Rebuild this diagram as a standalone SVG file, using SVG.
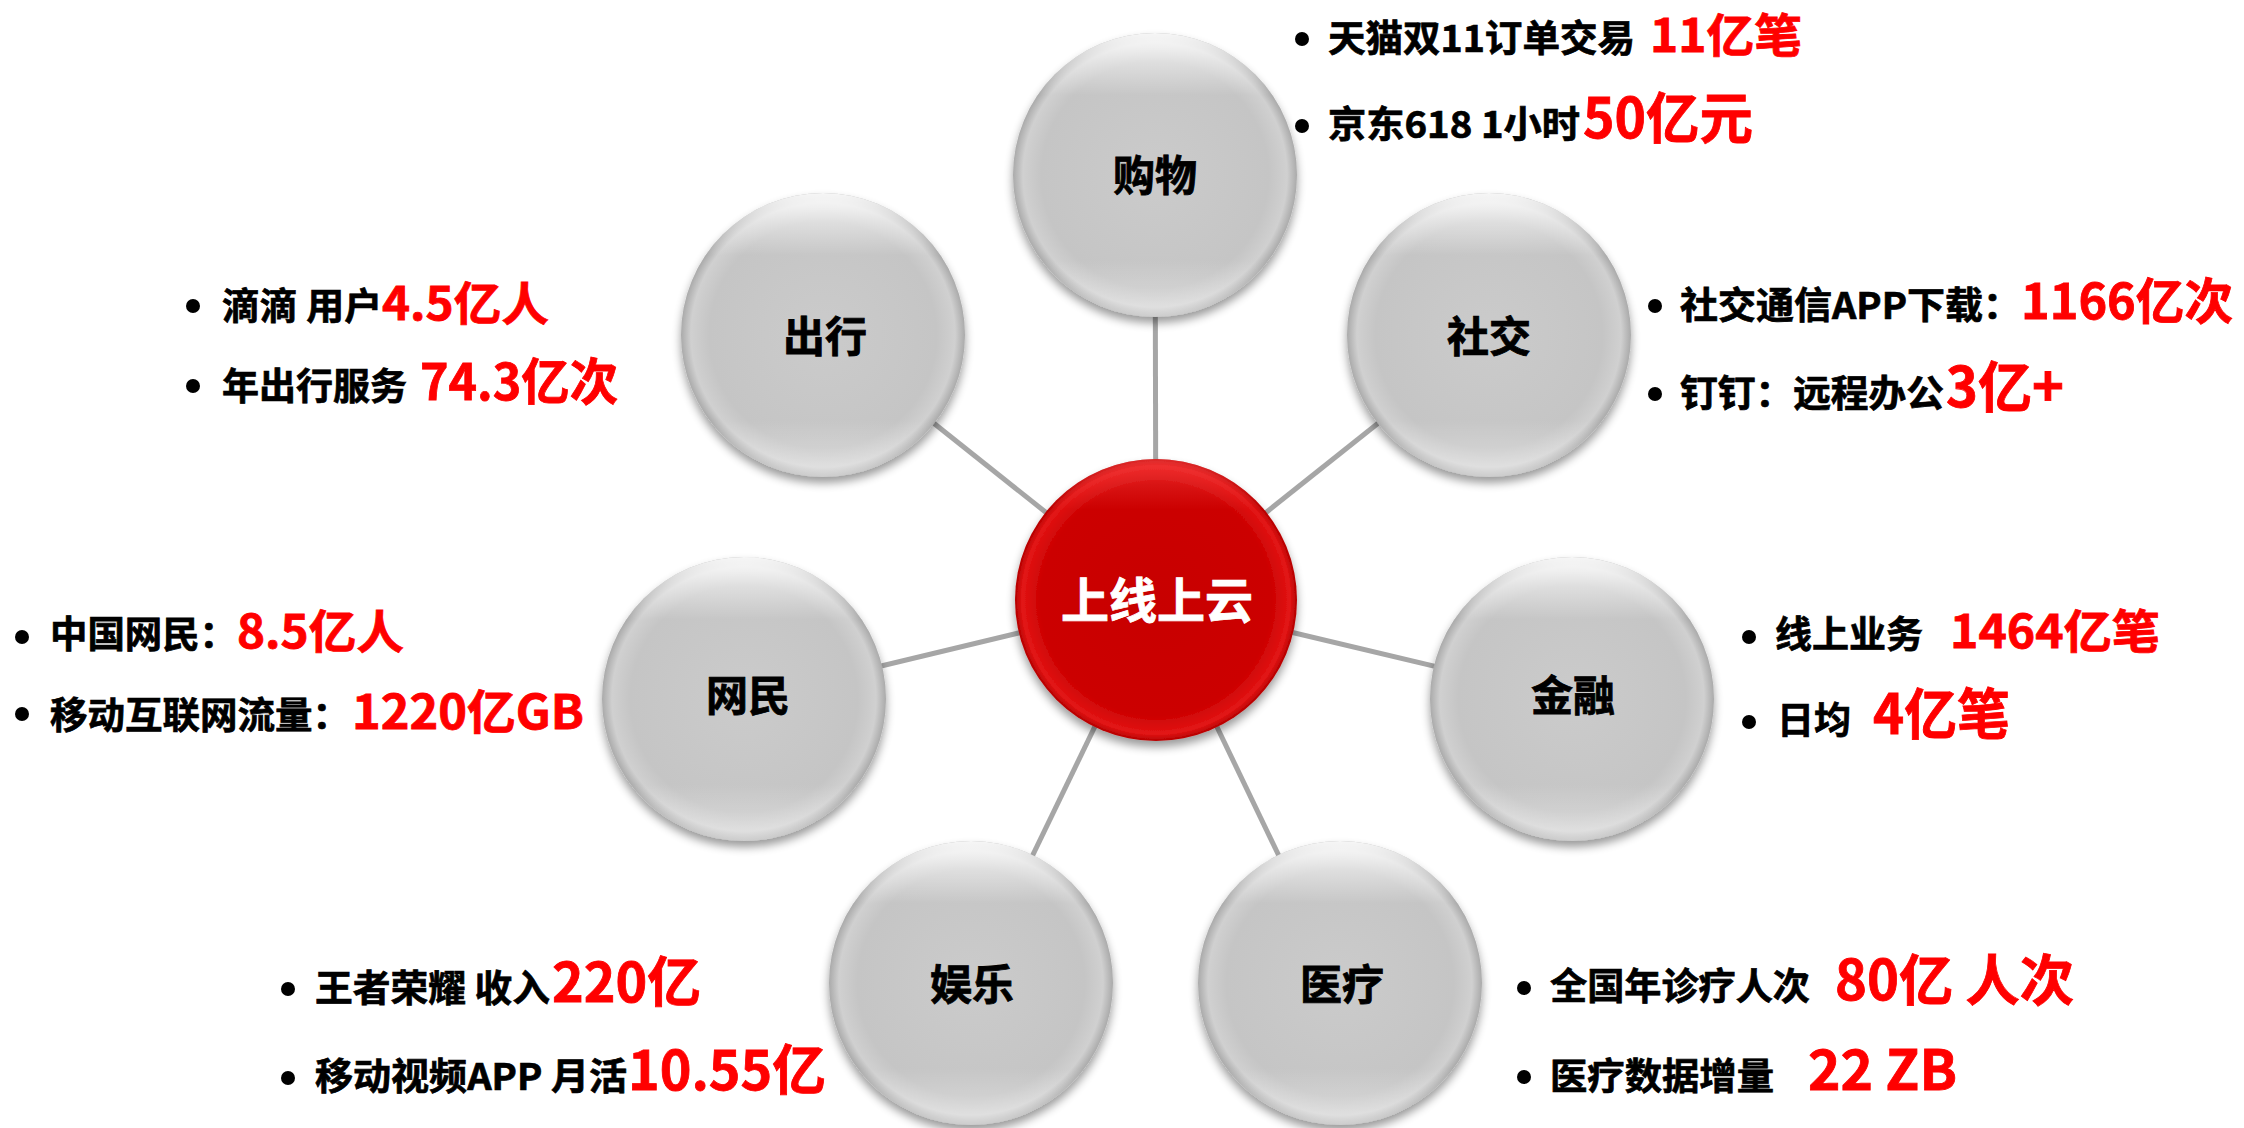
<svg xmlns="http://www.w3.org/2000/svg" width="2244" height="1128" viewBox="0 0 2244 1128">
<style>
.t{font-family:"Noto Sans CJK SC","Noto Sans CJK JP","Noto Sans",sans-serif;font-weight:700}
.nl{font-size:42px;fill:#000;stroke:#000;stroke-width:0.8px;text-anchor:middle}
.cl{font-size:48px;fill:#fff;stroke:#fff;stroke-width:0.8px;text-anchor:middle}
.b{font-size:37px;fill:#000;stroke:#000;stroke-width:0.7px}
.r{fill:#ff0000;stroke:#ff0000;stroke-width:0.8px}
.conn{stroke:#a6a6a6;stroke-width:5;stroke-linecap:butt}
.dot{fill:#000}
.gc{fill:url(#gBase);filter:url(#sh)}
.gh{fill:url(#gHi)}
</style>
<defs>
<filter id="sh" x="-20%" y="-20%" width="140%" height="150%">
<feGaussianBlur in="SourceAlpha" stdDeviation="5"/>
<feOffset dy="6" result="o"/>
<feComponentTransfer><feFuncA type="linear" slope="0.4"/></feComponentTransfer>
<feMerge><feMergeNode/><feMergeNode in="SourceGraphic"/></feMerge>
</filter>
<radialGradient id="gBase" cx="0.5" cy="0.5" r="0.5">
<stop offset="0" stop-color="#cbcbcb"/>
<stop offset="0.8" stop-color="#c5c5c5"/>
<stop offset="0.93" stop-color="#d0d0d0"/>
<stop offset="1" stop-color="#aaaaaa"/>
</radialGradient>
<linearGradient id="gHi" x1="0" y1="0" x2="0" y2="1">
<stop offset="0" stop-color="#fff" stop-opacity="0.9"/>
<stop offset="0.1" stop-color="#fff" stop-opacity="0.45"/>
<stop offset="0.22" stop-color="#fff" stop-opacity="0"/>
<stop offset="0.8" stop-color="#fff" stop-opacity="0"/>
<stop offset="1" stop-color="#fff" stop-opacity="0.4"/>
</linearGradient>
<radialGradient id="rBase" cx="0.5" cy="0.5" r="0.5">
<stop offset="0" stop-color="#c80000"/>
<stop offset="0.82" stop-color="#cc0202"/>
<stop offset="0.95" stop-color="#e31515"/>
<stop offset="1" stop-color="#b40000"/>
</radialGradient>
<linearGradient id="rHi" x1="0" y1="0" x2="0" y2="1">
<stop offset="0" stop-color="#ff5050" stop-opacity="0.5"/>
<stop offset="0.18" stop-color="#ff5050" stop-opacity="0"/>
<stop offset="1" stop-color="#ff5050" stop-opacity="0"/>
</linearGradient>
</defs>
<rect width="2244" height="1128" fill="#ffffff"/>

<g id="connectors">
<line class="conn" x1="1156" y1="600" x2="1155" y2="175"/>
<line class="conn" x1="1156" y1="600" x2="823" y2="335"/>
<line class="conn" x1="1156" y1="600" x2="1489" y2="335"/>
<line class="conn" x1="1156" y1="600" x2="744" y2="699"/>
<line class="conn" x1="1156" y1="600" x2="1572" y2="699"/>
<line class="conn" x1="1156" y1="600" x2="971" y2="983"/>
<line class="conn" x1="1156" y1="600" x2="1340" y2="983"/>
</g>

<g id="node-shopping">
<circle class="gc" cx="1155" cy="175" r="142"/>
<circle class="gh" cx="1155" cy="175" r="142"/>
<text class="t nl" x="1155" y="191">购物</text>
<circle class="dot" cx="1302" cy="39" r="7"/>
<text class="t b" x="1328" y="52" textLength="307" lengthAdjust="spacingAndGlyphs">天猫双11订单交易</text>
<text class="t r" x="1650" y="52" font-size="46" textLength="152" lengthAdjust="spacingAndGlyphs">11亿笔</text>
<circle class="dot" cx="1302" cy="126" r="7"/>
<text class="t b" x="1328" y="138" textLength="252" lengthAdjust="spacingAndGlyphs">京东618 1小时</text>
<text class="t r" x="1583" y="138" font-size="55" textLength="170" lengthAdjust="spacingAndGlyphs">50亿元</text>
</g>

<g id="node-travel">
<circle class="gc" cx="823" cy="335" r="142"/>
<circle class="gh" cx="823" cy="335" r="142"/>
<text class="t nl" x="825" y="352">出行</text>
<circle class="dot" cx="193" cy="306" r="7"/>
<text class="t b" x="222" y="320" textLength="160" lengthAdjust="spacingAndGlyphs">滴滴 用户</text>
<text class="t r" x="382" y="320" font-size="46" textLength="167" lengthAdjust="spacingAndGlyphs">4.5亿人</text>
<circle class="dot" cx="193" cy="386" r="7"/>
<text class="t b" x="222" y="400" textLength="185" lengthAdjust="spacingAndGlyphs">年出行服务</text>
<text class="t r" x="420" y="400" font-size="50" textLength="198" lengthAdjust="spacingAndGlyphs">74.3亿次</text>
</g>

<g id="node-social">
<circle class="gc" cx="1489" cy="335" r="142"/>
<circle class="gh" cx="1489" cy="335" r="142"/>
<text class="t nl" x="1489" y="352">社交</text>
<circle class="dot" cx="1655" cy="306" r="7"/>
<text class="t b" x="1680" y="319" textLength="341" lengthAdjust="spacingAndGlyphs">社交通信APP下载：</text>
<text class="t r" x="2021" y="319" font-size="49" textLength="212" lengthAdjust="spacingAndGlyphs">1166亿次</text>
<circle class="dot" cx="1655" cy="394" r="7"/>
<text class="t b" x="1680" y="407" textLength="264" lengthAdjust="spacingAndGlyphs">钉钉：远程办公</text>
<text class="t r" x="1946" y="407" font-size="55" textLength="118" lengthAdjust="spacingAndGlyphs">3亿+</text>
</g>

<g id="node-netizen">
<circle class="gc" cx="744" cy="699" r="142"/>
<circle class="gh" cx="744" cy="699" r="142"/>
<text class="t nl" x="748" y="711">网民</text>
<circle class="dot" cx="22" cy="637" r="7"/>
<text class="t b" x="50" y="648" textLength="187" lengthAdjust="spacingAndGlyphs">中国网民：</text>
<text class="t r" x="237" y="648" font-size="46" textLength="167" lengthAdjust="spacingAndGlyphs">8.5亿人</text>
<circle class="dot" cx="22" cy="714" r="7"/>
<text class="t b" x="50" y="729" textLength="300" lengthAdjust="spacingAndGlyphs">移动互联网流量：</text>
<text class="t r" x="352" y="729" font-size="47" textLength="232" lengthAdjust="spacingAndGlyphs">1220亿GB</text>
</g>

<g id="node-finance">
<circle class="gc" cx="1572" cy="699" r="142"/>
<circle class="gh" cx="1572" cy="699" r="142"/>
<text class="t nl" x="1573" y="711">金融</text>
<circle class="dot" cx="1749" cy="637" r="7"/>
<text class="t b" x="1775" y="648" textLength="148" lengthAdjust="spacingAndGlyphs">线上业务</text>
<text class="t r" x="1950" y="648" font-size="46" textLength="210" lengthAdjust="spacingAndGlyphs">1464亿笔</text>
<circle class="dot" cx="1749" cy="722" r="7"/>
<text class="t b" x="1777" y="734" textLength="74" lengthAdjust="spacingAndGlyphs">日均</text>
<text class="t r" x="1873" y="734" font-size="55" textLength="137" lengthAdjust="spacingAndGlyphs">4亿笔</text>
</g>

<g id="node-entertainment">
<circle class="gc" cx="971" cy="983" r="142"/>
<circle class="gh" cx="971" cy="983" r="142"/>
<text class="t nl" x="972" y="1000">娱乐</text>
<circle class="dot" cx="288" cy="989" r="7"/>
<text class="t b" x="315" y="1002" textLength="235" lengthAdjust="spacingAndGlyphs">王者荣耀 收入</text>
<text class="t r" x="552" y="1002" font-size="54" textLength="149" lengthAdjust="spacingAndGlyphs">220亿</text>
<circle class="dot" cx="288" cy="1078" r="7"/>
<text class="t b" x="315" y="1090" textLength="312" lengthAdjust="spacingAndGlyphs">移动视频APP 月活</text>
<text class="t r" x="628" y="1090" font-size="54" textLength="198" lengthAdjust="spacingAndGlyphs">10.55亿</text>
</g>

<g id="node-medical">
<circle class="gc" cx="1340" cy="983" r="142"/>
<circle class="gh" cx="1340" cy="983" r="142"/>
<text class="t nl" x="1342" y="1000">医疗</text>
<circle class="dot" cx="1524" cy="988" r="7"/>
<text class="t b" x="1550" y="1000" textLength="260" lengthAdjust="spacingAndGlyphs">全国年诊疗人次</text>
<text class="t r" x="1835" y="1000" font-size="55" textLength="239" lengthAdjust="spacingAndGlyphs">80亿 人次</text>
<circle class="dot" cx="1524" cy="1077" r="7"/>
<text class="t b" x="1550" y="1090" textLength="224" lengthAdjust="spacingAndGlyphs">医疗数据增量</text>
<text class="t r" x="1808" y="1090" font-size="55" textLength="149" lengthAdjust="spacingAndGlyphs">22 ZB</text>
</g>

<g id="node-center">
<circle cx="1156" cy="600" r="141" fill="url(#rBase)" filter="url(#sh)"/>
<circle cx="1156" cy="600" r="141" fill="url(#rHi)"/>
<text class="t cl" x="1157" y="618">上线上云</text>
</g>
</svg>
